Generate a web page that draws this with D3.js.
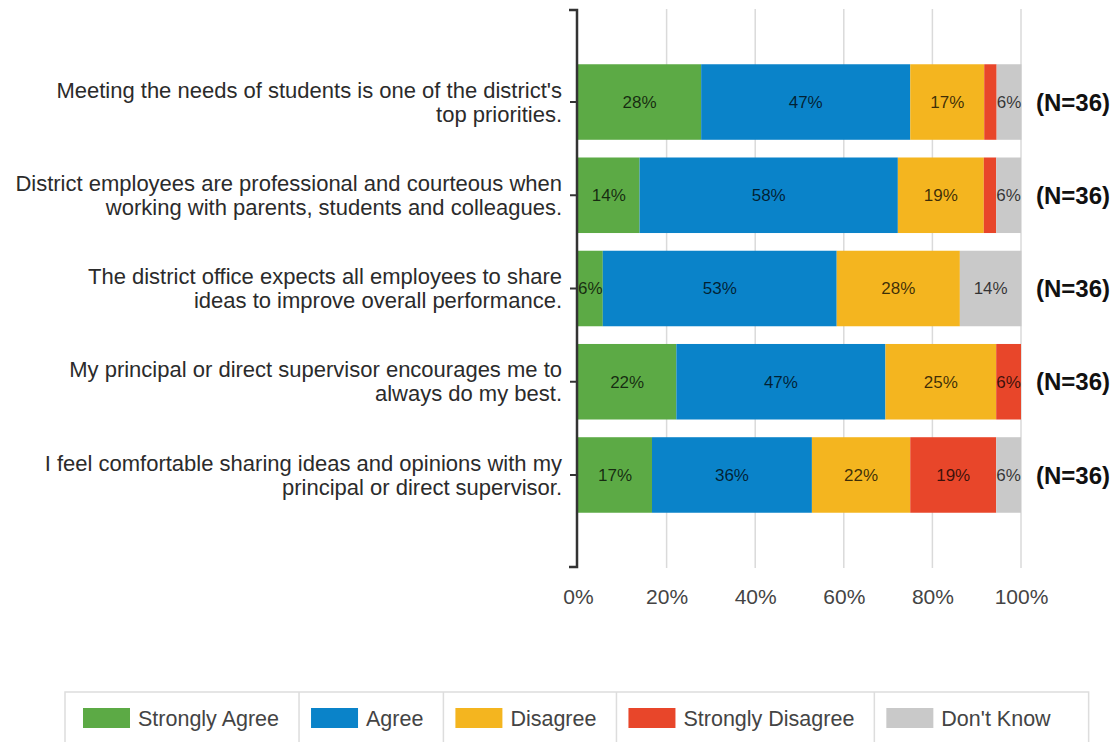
<!DOCTYPE html>
<html>
<head>
<meta charset="utf-8">
<script src="https://cdn.jsdelivr.net/npm/d3@7"></script>
<style>
  body { margin: 0; background: #fff; }
  text { font-family: "Liberation Sans", Arial, sans-serif; }
</style>
</head>
<body>
<script>
// Chart data
const questions = [
    "Meeting the needs of students is one of the district's\ntop priorities.",
    "District employees are professional and courteous when\nworking with parents, students and colleagues.",
    "The district office expects all employees to share\nideas to improve overall performance.",
    "My principal or direct supervisor encourages me to\nalways do my best.",
    "I feel comfortable sharing ideas and opinions with my\nprincipal or direct supervisor."
];
const responses = ["Strongly Agree", "Agree", "Disagree", "Strongly Disagree", "Don't Know"];
const strongAgree    = [27.8, 13.9, 5.6, 22.2, 16.7];
const agree          = [47.2, 58.3, 52.8, 47.2, 36.1];
const disagree       = [16.7, 19.4, 27.8, 25.0, 22.2];
const strongDisagree = [2.8, 2.8, 0, 5.6, 19.4];
const dontKnow       = [5.6, 5.6, 13.9, 0, 5.6];
const counts = [36, 36, 36, 36, 36];
const xTicks = [0, 20, 40, 60, 80, 100];

const colors = ["#5caa45", "#0a83c9", "#f4b51f", "#e8462a", "#c9c9c9"];

const width = 1118, height = 742;

let svg = d3.select('body').append('svg')
    .attr('width', width)
    .attr('height', height);

// rows for stacking
const rows = questions.map((q, i) => ({
    q: q,
    n: counts[i],
    "Strongly Agree": strongAgree[i],
    "Agree": agree[i],
    "Disagree": disagree[i],
    "Strongly Disagree": strongDisagree[i],
    "Don't Know": dontKnow[i]
}));
const series = d3.stack().keys(responses)(rows);

// Scales
const x = d3.scaleLinear().domain([0, 100]).range([578, 1021]);
const y = d3.scaleBand().domain(questions).range([55.4, 521.6])
    .paddingInner(0.19).paddingOuter(0.095);
const color = d3.scaleOrdinal().domain(responses).range(colors);

// Gridlines
svg.append('g')
    .selectAll('line')
    .data(xTicks.slice(1))
    .enter().append('line')
    .attr('x1', d => x(d)).attr('x2', d => x(d))
    .attr('y1', 9).attr('y2', 568)
    .attr('stroke', '#dadada')
    .attr('stroke-width', 1.5);

// x tick labels
let xAxis = svg.append('g')
    .attr('transform', 'translate(0,' + 583 + ')')
    .call(d3.axisBottom(x).tickValues(xTicks).tickSize(0).tickPadding(6).tickFormat(d => d + '%'));
xAxis.select('.domain').remove();
xAxis.selectAll('text')
    .attr('font-size', 21)
    .attr('font-family', '"Liberation Sans", Arial, sans-serif')
    .attr('fill', '#444');

// Bars
let layer = svg.append('g')
    .selectAll('g')
    .data(series)
    .enter().append('g')
    .attr('fill', d => color(d.key));

layer.selectAll('rect')
    .data(d => d)
    .enter().append('rect')
    .attr('x', d => x(d[0]))
    .attr('y', d => y(d.data.q))
    .attr('width', d => x(d[1]) - x(d[0]))
    .attr('height', y.bandwidth());

// Segment labels
layer.selectAll('text')
    .data(d => d.filter(s => s[1] - s[0] >= 5))
    .enter().append('text')
    .attr('x', d => (x(d[0]) + x(d[1])) / 2)
    .attr('y', d => y(d.data.q) + y.bandwidth() / 2)
    .attr('dy', '0.35em')
    .attr('text-anchor', 'middle')
    .attr('font-size', 17)
    .attr('fill', '#000')
    .attr('fill-opacity', 0.75)
    .text(d => Math.round(d[1] - d[0]) + '%');

// N labels
svg.append('g')
    .selectAll('text')
    .data(rows)
    .enter().append('text')
    .attr('x', 1036)
    .attr('y', d => y(d.q) + y.bandwidth() / 2)
    .attr('dy', '0.36em')
    .attr('font-size', 24)
    .attr('font-weight', 'bold')
    .attr('fill', '#111')
    .text(d => '(N=' + d.n + ')');

// Y axis (ticks + spine with caps)
let yAxis = svg.append('g')
    .attr('transform', 'translate(577,0)')
    .call(d3.axisLeft(y).tickSize(7).tickSizeOuter(0).tickFormat(''));
yAxis.select('.domain').remove();
yAxis.selectAll('line').attr('stroke', '#333').attr('stroke-width', 2);
svg.append('path')
    .attr('d', 'M569,10H577V567H569')
    .attr('fill', 'none')
    .attr('stroke', '#333')
    .attr('stroke-width', 2.5);

// Category labels
let labels = svg.append('g')
    .selectAll('text')
    .data(questions)
    .enter().append('text')
    .attr('text-anchor', 'end')
    .attr('font-size', 22)
    .attr('fill', '#2b2b2b')
    .attr('transform', d => 'translate(562,' + (y(d) + y.bandwidth() / 2) + ')');
labels.selectAll('tspan')
    .data(d => d.split('\n'))
    .enter().append('tspan')
    .attr('x', 0)
    .attr('y', (d, i) => (i - 0.5) * 24)
    .attr('dy', '0.35em')
    .text(d => d);

// Legend
let legend = svg.append('g');
let cursor = 65;
let cells = [];
responses.forEach(function(r, i) {
    let pad = i === 0 ? 18 : 12;
    let g = legend.append('g');
    g.append('rect')
        .attr('x', cursor + pad).attr('y', 708)
        .attr('width', 47).attr('height', 20)
        .attr('fill', color(r));
    let t = g.append('text')
        .attr('x', cursor + pad + 47 + 8)
        .attr('y', 718)
        .attr('dy', '0.35em')
        .attr('font-size', 21.5)
        .attr('fill', '#444')
        .text(r);
    let end = cursor + pad + 47 + 8 + t.node().getComputedTextLength() + 20;
    cells.push([cursor, end]);
    cursor = end;
});
cells[cells.length - 1][1] = cursor + 18;
legend.insert('rect', ':first-child')
    .attr('x', 65).attr('y', 692)
    .attr('width', cells[cells.length - 1][1] - 65).attr('height', 60)
    .attr('fill', 'none')
    .attr('stroke', '#ddd')
    .attr('stroke-width', 1.5);
legend.selectAll('line.sep')
    .data(cells.slice(1))
    .enter().append('line')
    .attr('class', 'sep')
    .attr('x1', d => d[0]).attr('x2', d => d[0])
    .attr('y1', 692).attr('y2', 742)
    .attr('stroke', '#ddd')
    .attr('stroke-width', 1.5);
</script>
</body>
</html>
